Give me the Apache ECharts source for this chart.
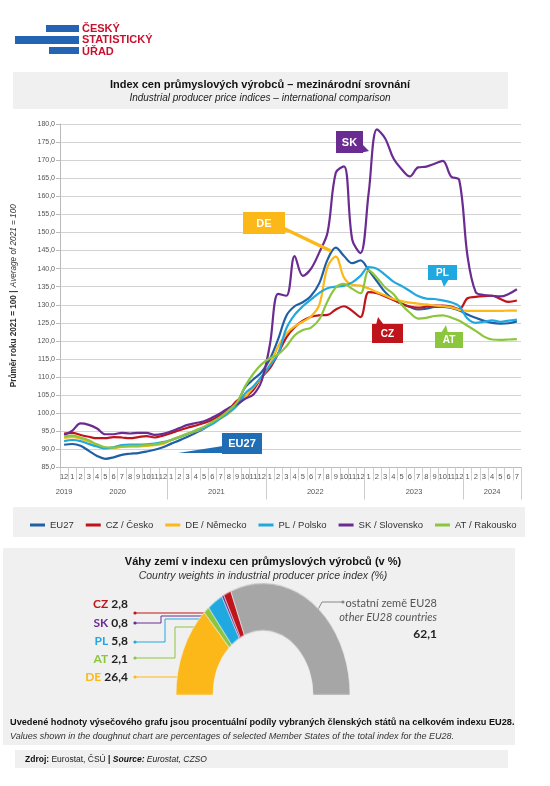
<!DOCTYPE html>
<html><head><meta charset="utf-8">
<script src="https://cdn.jsdelivr.net/npm/echarts@6/dist/echarts.min.js"></script>
<style>html,body{margin:0;padding:0;background:#fff}#wrap{position:relative;width:550px;height:786px}#c{width:550px;height:786px}
#p{position:absolute;left:162.5px;top:595px;width:200px;height:100px;transform:scaleY(1.287);transform-origin:50% 100%}</style>
</head><body><div id="wrap"><div id="c"></div><div id="p"></div></div>
<script>
// ---- data ----
const categories = ['2019-12',
'2020-01','2020-02','2020-03','2020-04','2020-05','2020-06','2020-07','2020-08','2020-09','2020-10','2020-11','2020-12',
'2021-01','2021-02','2021-03','2021-04','2021-05','2021-06','2021-07','2021-08','2021-09','2021-10','2021-11','2021-12',
'2022-01','2022-02','2022-03','2022-04','2022-05','2022-06','2022-07','2022-08','2022-09','2022-10','2022-11','2022-12',
'2023-01','2023-02','2023-03','2023-04','2023-05','2023-06','2023-07','2023-08','2023-09','2023-10','2023-11','2023-12',
'2024-01','2024-02','2024-03','2024-04','2024-05','2024-06','2024-07'];
const eu27 = [91.3,91.5,91.0,89.6,88.2,87.4,87.8,88.5,88.8,89.0,89.4,89.9,90.6,
91.6,92.5,93.5,94.6,95.8,97.4,98.8,100.5,102.8,107.2,109.4,111.4,
115.0,120.5,127.0,129.6,130.7,132.5,136.0,142.5,145.8,143.5,141.5,142.3,
139.5,136.5,133.5,131.5,130.3,129.4,128.7,128.9,129.4,129.4,129.1,128.4,
127.3,126.4,125.6,125.0,124.8,124.9,125.4];
const cz = [94.4,94.6,94.0,93.5,93.1,93.1,93.4,93.3,93.1,93.4,93.7,93.3,93.8,
94.5,95.3,96.0,96.6,97.3,98.2,99.5,101.0,103.5,104.5,106.5,110.0,
112.5,116.5,121.0,123.8,125.6,126.7,127.1,127.2,128.7,129.6,128.3,126.6,
133.5,133.2,132.3,131.3,130.3,129.5,129.2,129.5,129.8,129.8,129.5,128.8,
131.8,132.2,132.4,132.5,131.6,130.8,131.2];
const de = [93.2,93.4,93.0,92.2,91.2,90.4,90.4,90.7,90.8,90.8,91.0,91.2,91.5,
92.6,93.4,94.2,95.0,95.9,97.2,98.5,100.0,102.0,104.5,107.2,110.0,
113.5,118.5,122.0,124.0,125.3,126.8,130.0,140.5,143.3,137.5,135.5,135.3,
134.5,133.5,132.6,131.6,131.0,130.6,130.3,130.1,129.8,129.6,129.3,128.6,
128.3,128.3,128.3,128.3,128.3,128.4,128.4];
const pl = [92.3,92.6,92.3,91.5,90.8,90.3,90.6,91.2,91.3,91.3,91.4,91.6,92.0,
92.6,93.4,94.3,95.2,96.0,97.0,98.6,100.2,102.2,105.5,107.5,110.2,
113.2,116.5,123.5,127.2,129.6,131.5,133.3,134.6,135.0,135.3,136.2,138.0,
140.4,140.0,138.3,136.4,135.2,133.8,132.4,131.7,131.6,131.2,130.7,129.6,
126.2,125.0,125.3,125.7,125.3,125.6,125.9];
const sk = [94.0,95.2,97.2,96.8,95.8,94.2,94.2,94.6,94.4,94.6,94.6,94.0,94.3,
95.0,95.9,96.8,97.3,97.8,98.8,100.0,101.5,102.5,104.0,105.2,109.0,
119.0,133.0,132.5,143.5,138.0,140.0,144.5,150.0,166.5,168.3,148.0,144.3,
161.0,178.5,176.0,170.5,167.5,165.5,168.0,168.2,169.0,169.8,165.5,164.5,
143.5,133.5,132.7,132.5,132.3,133.0,134.3];
const at = [93.6,93.8,93.3,92.5,91.4,90.6,90.5,90.8,91.0,91.0,91.2,91.4,91.8,
92.6,93.5,94.4,95.3,96.3,97.6,99.0,100.8,103.0,107.5,111.0,113.6,
115.2,116.3,118.5,121.5,123.0,123.7,126.0,131.0,134.8,135.8,134.4,133.2,
139.5,137.5,134.8,133.0,130.0,127.8,126.2,126.4,126.9,127.1,126.5,125.6,
124.2,122.8,121.2,120.4,120.3,120.4,120.5];
const seriesNames = ['EU27','CZ / Česko','DE / Německo','PL / Polsko','SK / Slovensko','AT / Rakousko'];
const seriesColors = ['#1f5fa6','#c0141c','#fbb818','#20a8e0','#6b2c91','#8cc63f'];
const weightNames = ['DE','AT','PL','SK','CZ','ostatní země EU28'];
const weightValues = [26.4, 2.1, 5.8, 0.8, 2.8, 62.1];
const weightColors = ['#fbb818','#8cc63f','#20a8e0','#6b2c91','#c0141c','#a6a6a6'];
const weightLabels = ['26,4','2,1','5,8','0,8','2,8','62,1'];

// ---- helpers for decorations ----
const F = 'Liberation Sans, Arial, sans-serif';
function rect(x,y,w,h,fill,z){return {type:'rect',silent:true,z:z===undefined?-10:z,shape:{x:x,y:y,width:w,height:h},style:{fill:fill}};}
function txt(x,y,text,o){o=o||{};return {type:'text',silent:true,z:o.z||20,style:{x:x,y:y,text:text,
  fontSize:o.size||10,fontWeight:o.bold?'bold':'normal',fontStyle:o.italic?'italic':'normal',fontFamily:o.family||F,
  fill:o.color||'#222',align:o.align||'left',verticalAlign:'middle',textAlign:o.align||'left',textVerticalAlign:'middle',rich:o.rich}};}
function poly(points,fill,z){return {type:'polygon',silent:true,z:z||30,shape:{points:points},style:{fill:fill}};}
function pline(points,color,w,z){return {type:'polyline',silent:true,z:z||15,shape:{points:points},style:{stroke:color,lineWidth:w||1,fill:null}};}
function dot(x,y,color){return {type:'circle',silent:true,z:16,shape:{cx:x,cy:y,r:1.6},style:{fill:color}};}
function callout(x,y,w,h,color,label,tail,size){
  return [rect(x,y,w,h,color,30), poly(tail,color,30),
    txt(x+w/2,y+h/2+0.5,label,{bold:true,size:size||11,color:'#fff',align:'center',z:31})];
}

const G = [];
// logo
G.push(rect(46,25,33,7,'#2465b3',1), rect(15,36,64,8,'#2465b3',1), rect(49,47,30,7,'#2465b3',1));
const LF = 'Liberation Sans Narrow, Liberation Sans, Arial';
G.push(txt(82,28.5,'ČESKÝ',{bold:true,size:11,color:'#c8102e',family:LF}),
       txt(82,40,'STATISTICKÝ',{bold:true,size:11,color:'#c8102e',family:LF}),
       txt(82,51.5,'ÚŘAD',{bold:true,size:11,color:'#c8102e',family:LF}));
// title box
G.push(rect(13,72,495,37,'#f0f0f0'));
G.push(txt(260,85,'Index cen průmyslových výrobců – mezinárodní srovnání',{bold:true,size:11,align:'center',color:'#111'}));
G.push(txt(260,98,'Industrial producer price indices – international comparison',{italic:true,size:10,align:'center',color:'#222'}));
// legend box
G.push(rect(13,507,512,30,'#f0f0f0'));
// doughnut section box
G.push(rect(3,548,512,197,'#f0f0f0'));
G.push(txt(263,562,'Váhy zemí v indexu cen průmyslových výrobců (v %)',{bold:true,size:11,align:'center',color:'#111'}));
G.push(txt(263,576,'Country weights in industrial producer price index (%)',{italic:true,size:10.5,align:'center',color:'#333'}));
// footnote
G.push(txt(10,722,'Uvedené hodnoty výsečového grafu jsou procentuální podíly vybraných členských států na celkovém indexu EU28.',{bold:true,size:9.2,color:'#111'}));
G.push(txt(10,736,'Values shown in the doughnut chart are percentages of selected Member States of the total index for the EU28.',{italic:true,size:9,color:'#333'}));
// source
G.push(rect(15,750,493,18,'#f0f0f0'));
G.push(txt(25,759.5,'{b|Zdroj:} Eurostat, ČSÚ {b||} {bi|Source:} {i|Eurostat, CZSO}',{size:8.5,color:'#222',
  rich:{b:{fontWeight:'bold',fontSize:8.5,fontFamily:F,fill:'#111'},bi:{fontWeight:'bold',fontStyle:'italic',fontSize:8.5,fontFamily:F,fill:'#111'},i:{fontStyle:'italic',fontSize:8.5,fontFamily:F,fill:'#222'}}}));
// doughnut labels
const DL = 'Lato, Open Sans, sans-serif';
const leftLabels = [
  {i:4,y:604,pts:[[135,613],[229,613]]},
  {i:3,y:623,pts:[[135,623],[161,623],[161,616],[226,616]]},
  {i:2,y:641,pts:[[135,642],[165,642],[165,619],[221,619]]},
  {i:1,y:659,pts:[[135,658],[175,658],[175,627],[207,627]]},
  {i:0,y:677,pts:[[135,677],[178,677]]}
];
leftLabels.forEach(function(l){
  G.push(txt(128,l.y,'{n|'+weightNames[l.i]+'} {v|'+weightLabels[l.i]+'}',{align:'right',size:12,family:DL,
    rich:{n:{fontWeight:'bold',fontSize:12,fontFamily:DL,fill:weightColors[l.i]},v:{fontWeight:'bold',fontSize:12,fontFamily:DL,fill:'#222'}}}));
  G.push(pline(l.pts,weightColors[l.i],1));
  G.push(dot(l.pts[0][0],l.pts[0][1],weightColors[l.i]));
});
G.push(pline([[313,619],[322,602],[343,602]],'#888',1), dot(343,602,'#888'));
G.push(txt(437,603,'ostatní země EU28',{align:'right',size:11,family:DL,color:'#555'}));
G.push(txt(437,617,'other EU28 countries',{align:'right',size:11,family:DL,color:'#555',italic:true}));
G.push(txt(437,634,weightLabels[5],{align:'right',size:12,family:DL,color:'#222',bold:true}));
// line callouts
G.push.apply(G, callout(336,131,27,22,'#6b2c91','SK',[[362,144],[369,151],[360,153]]));
G.push({type:'line',silent:true,z:29,shape:{x1:283,y1:228,x2:331,y2:251},style:{stroke:'#fbb818',lineWidth:3.5}});
G.push.apply(G, callout(243,212,42,22,'#fbb818','DE',[[283,224],[287,232],[283,233]]));
G.push.apply(G, callout(428,265,29,15,'#20a8e0','PL',[[441,279],[449,279],[444,287]],10));
G.push.apply(G, callout(372,324,31,19,'#c0141c','CZ',[[376,325],[384,325],[378,317]],10));
G.push.apply(G, callout(435,332,28,16,'#8cc63f','AT',[[441,333],[448,333],[446,325]],10));
G.push.apply(G, callout(222,433,40,21,'#1f6db5','EU27',[[223,446],[223,453],[178,453]],11));

const lineData = [eu27, cz, de, pl, sk, at];
const series = lineData.map(function(d,k){
  return {name:seriesNames[k],type:'line',data:d,smooth:0.35,symbol:'none',
    lineStyle:{width:2.2,color:seriesColors[k]},itemStyle:{color:seriesColors[k]},z:3+k};
});

const option = {
  animation:false,
  backgroundColor:'#fff',
  textStyle:{fontFamily:F},
  grid:{left:55,right:29,top:124,bottom:318.5,containLabel:false},
  legend:{data:seriesNames,top:515,left:25,width:515,itemWidth:15,itemHeight:3,itemGap:12,icon:'rect',
    textStyle:{fontSize:9.5,color:'#333',fontFamily:F}},
  xAxis:[{type:'category',data:categories,boundaryGap:true,
    axisLine:{show:true,lineStyle:{color:'#bbb'}},
    axisTick:{show:true,interval:0,length:13,lineStyle:{color:'#d0d0d0'}},
    axisLabel:{interval:0,fontSize:7.5,color:'#555',margin:5,formatter:function(v){return String(+v.split('-')[1]);}},
    splitLine:{show:false}},
   {type:'category',data:categories,boundaryGap:true,position:'bottom',
    axisLine:{show:false},
    axisTick:{show:true,length:32,lineStyle:{color:'#ccc'},interval:function(idx,v){return v.split('-')[1]==='01' && v!=='2020-01';}},
    axisLabel:{fontSize:7.5,color:'#555',margin:20,
      interval:function(idx,v){var p=v.split('-');if(p[0]==='2019')return true;if(p[0]==='2024')return p[1]==='04';return p[1]==='06';},
      formatter:function(v){var p=v.split('-');if(p[0]==='2019'||p[0]==='2024')return '{c|'+p[0]+'}';return '{s|'+p[0]+'}';},
      rich:{c:{fontSize:7.5,color:'#555'},s:{fontSize:7.5,color:'#555',padding:[0,0,0,8.3]}}},
    splitLine:{show:false}}],
  yAxis:{type:'value',min:85,max:180,interval:5,
    axisLine:{show:true,lineStyle:{color:'#bbb'}},axisTick:{show:true,length:4,lineStyle:{color:'#bbb'}},
    axisLabel:{fontSize:7,color:'#555',margin:5,formatter:function(v){return v.toFixed(1).replace('.',',');}},
    splitLine:{lineStyle:{color:'#d3d3d3',width:1}},
    name:'{b|Průměr roku 2021 = 100 |} {i|Average of 2021 = 100}',nameLocation:'middle',nameGap:40,nameRotate:90,
    nameTextStyle:{rich:{b:{fontWeight:'bold',fontSize:8.2,color:'#333'},i:{fontStyle:'italic',fontSize:8.2,color:'#333'}}}},
  series:series,
  graphic:{elements:G}
};
const chart = echarts.init(document.getElementById('c'));
chart.setOption(option);

// doughnut (half ring), drawn by the pie series, stretched vertically like the original graphic
const pie = echarts.init(document.getElementById('p'));
pie.setOption({animation:false,series:[{type:'pie',center:[100,100],radius:[50,87],startAngle:180,endAngle:0,clockwise:true,
  label:{show:false},labelLine:{show:false},silent:true,itemStyle:{borderColor:'#f0f0f0',borderWidth:0.6},
  data:weightValues.map(function(v,k){return {name:weightNames[k],value:v,itemStyle:{color:weightColors[k]}};})}]});
</script></body></html>
